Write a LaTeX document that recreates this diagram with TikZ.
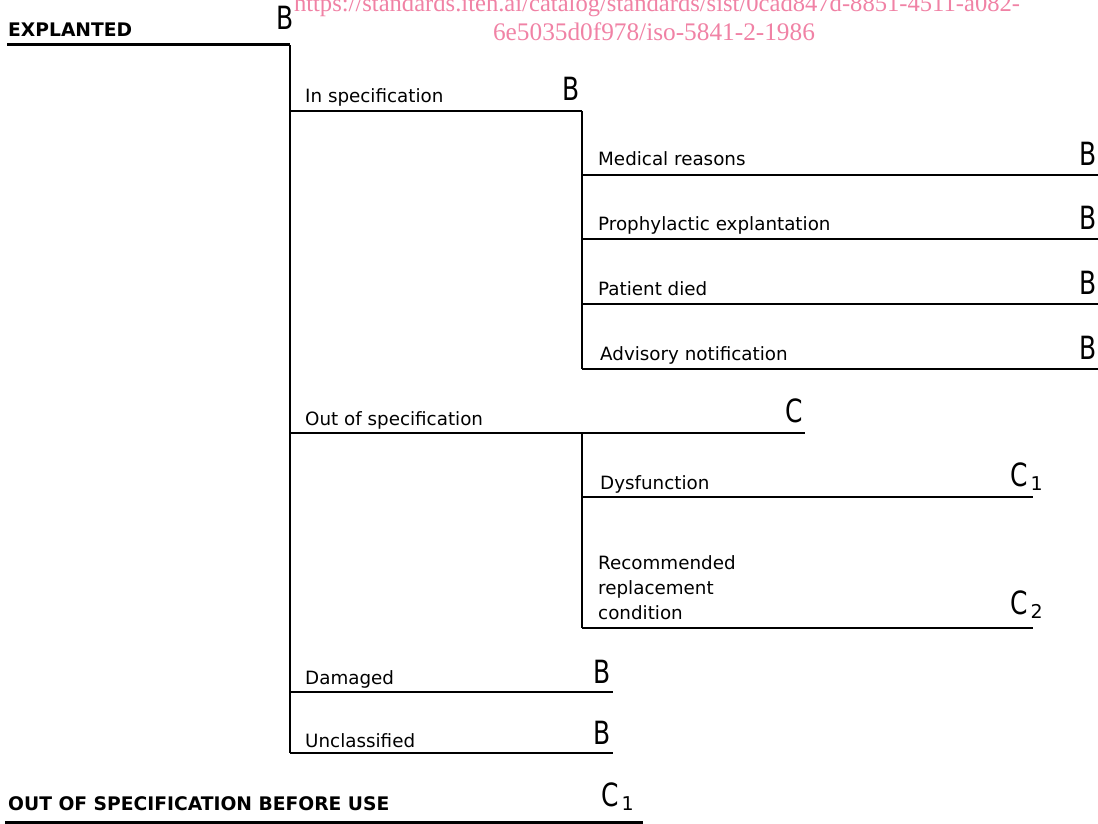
\documentclass[tikz,border=0pt]{standalone}
\usepackage{fontspec}
\setmainfont{DejaVu Sans}
\newfontfamily\wmfont{Liberation Serif}
\newfontfamily\lettfont{DejaVu Sans}
\definecolor{wmpink}{RGB}{240,130,165}
\newcommand{\grd}[1]{\scalebox{0.78}[1]{\lettfont\fontsize{32}{32}\selectfont #1}}
\newcommand{\grdsub}[2]{\scalebox{0.78}[1]{\lettfont\fontsize{32}{32}\selectfont #1}\hspace{3pt}\raisebox{-4pt}{\lettfont\fontsize{19}{19}\selectfont #2}}
\begin{document}
\begin{tikzpicture}[x=1pt,y=-1pt,
  txt/.style={anchor=base west,inner sep=0pt,font=\fontsize{18.3}{18.3}\selectfont},
  head/.style={anchor=base west,inner sep=0pt,font=\bfseries\fontsize{18.7}{18.7}\selectfont},
  grade/.style={anchor=base west,inner sep=0pt},
  wm/.style={anchor=base,inner sep=0pt,text=wmpink},
  br/.style={line width=2pt,line cap=butt},
  brk/.style={line width=3pt,line cap=butt}]
\useasboundingbox (0,0) rectangle (1098,824);
% watermark
\node[wm,font=\wmfont\fontsize{24.6}{24.6}\selectfont] (wm1) at (657,12) {https://standards.iteh.ai/catalog/standards/sist/0cad847d-8851-4511-a082-};
\node[wm,font=\wmfont\fontsize{25.3}{25.3}\selectfont] (wm2) at (654,41) {6e5035d0f978/iso-5841-2-1986};
% coordinates
\coordinate (e0) at (7,45);
\coordinate (e1) at (290,45);
\coordinate (v1b) at (290,753);
\coordinate (is0) at (290,111); \coordinate (is1) at (582,111);
\coordinate (v2b) at (582,369);
\coordinate (mr0) at (582,175); \coordinate (mr1) at (1098,175);
\coordinate (pe0) at (582,239); \coordinate (pe1) at (1098,239);
\coordinate (pd0) at (582,304); \coordinate (pd1) at (1098,304);
\coordinate (an0) at (582,369); \coordinate (an1) at (1098,369);
\coordinate (os0) at (290,433); \coordinate (os1) at (805,433);
\coordinate (v3t) at (582,433); \coordinate (v3b) at (582,628);
\coordinate (df0) at (582,497); \coordinate (df1) at (1033,497);
\coordinate (rr0) at (582,628); \coordinate (rr1) at (1033,628);
\coordinate (dm0) at (290,692); \coordinate (dm1) at (613,692);
\coordinate (uc0) at (290,753); \coordinate (uc1) at (613,753);
\coordinate (ob0) at (5,822); \coordinate (ob1) at (643,822);
% lines
\draw[brk] (e0) -- (e1);
\draw[br] (e1) -- (v1b);
\draw[br] (is0) -- (is1);
\draw[br] (is1) -- (v2b);
\draw[br] (mr0) -- (mr1);
\draw[br] (pe0) -- (pe1);
\draw[br] (pd0) -- (pd1);
\draw[br] (an0) -- (an1);
\draw[br] (os0) -- (os1);
\draw[br] (v3t) -- (v3b);
\draw[br] (df0) -- (df1);
\draw[br] (rr0) -- (rr1);
\draw[br] (dm0) -- (dm1);
\draw[br] (uc0) -- (uc1);
\draw[brk] (ob0) -- (ob1);
% labels
\node[head] (tex) at (8,37) {EXPLANTED};
\node[grade] (gex) at (276,30) {\grd{B}};
\node[txt] (tis) at (305,103) {In specification};
\node[grade] (gis) at (562,101) {\grd{B}};
\node[txt] (tmr) at (598,166) {Medical reasons};
\node[grade] (gmr) at (1079,165) {\grd{B}};
\node[txt] (tpe) at (598,230) {Prophylactic explantation};
\node[grade] (gpe) at (1079,229) {\grd{B}};
\node[txt] (tpd) at (598,295) {Patient died};
\node[grade] (gpd) at (1079,294) {\grd{B}};
\node[txt] (tan) at (600,360) {Advisory notification};
\node[grade] (gan) at (1079,359) {\grd{B}};
\node[txt] (tos) at (305,425) {Out of specification};
\node[grade] (gos) at (785,422) {\grd{C}};
\node[txt] (tdf) at (600,489) {Dysfunction};
\node[grade] (gdf) at (1010,486) {\grdsub{C}{1}};
\node[txt] (trr1) at (598,569) {Recommended};
\node[txt] (trr2) at (598,594) {replacement};
\node[txt] (trr3) at (598,619) {condition};
\node[grade] (grr) at (1010,614) {\grdsub{C}{2}};
\node[txt] (tdm) at (305,684) {Damaged};
\node[grade] (gdm) at (593,683) {\grd{B}};
\node[txt] (tuc) at (305,747) {Unclassified};
\node[grade] (guc) at (593,744) {\grd{B}};
\node[head] (tob) at (8,810) {OUT OF SPECIFICATION BEFORE USE};
\node[grade] (gob) at (601,806) {\grdsub{C}{1}};
\end{tikzpicture}
\end{document}
